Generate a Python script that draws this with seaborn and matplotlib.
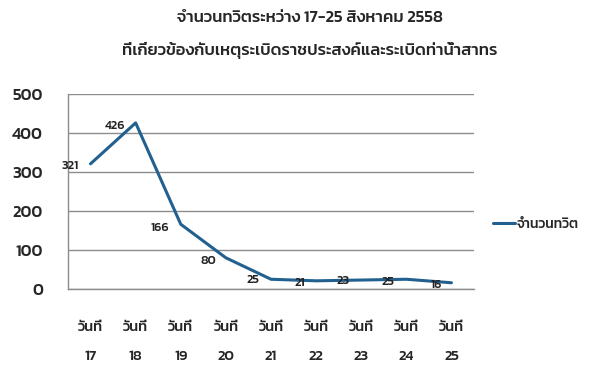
import matplotlib.pyplot as plt
import seaborn as sns
import pandas as pd

# Dados
dias = ['17', '18', '19', '20', '21', '22', '23', '24', '25']
tweets = [321, 426, 166, 80, 25, 21, 23, 25, 16]
titulo = 'จำนวนทวิตระหว่าง 17-25 สิงหาคม 2558\nที่เกี่ยวข้องกับเหตุระเบิดราชประสงค์และระเบิดท่าน้ำสาทร'
serie = 'จำนวนทวิต'

df = pd.DataFrame({'pos': range(len(dias)), 'valor': tweets, 'serie': serie})

sns.set_style('white')
fonte = ['Kanit', 'DejaVu Sans']
plt.rcParams['font.family'] = fonte

fig = plt.figure(figsize=(5.89, 3.72), dpi=100)
ax = fig.add_axes([0.1154, 0.2231, 0.6894, 0.5242])

sns.lineplot(data=df, x='pos', y='valor', hue='serie', palette=['#22608f'],
             linewidth=2.2, ax=ax, legend=True)

cinza = '#8c8c8c'
ax.set_xlim(-0.5, len(dias) - 0.5)
ax.set_ylim(0, 500)
ax.set_yticks([0, 100, 200, 300, 400, 500])
ax.yaxis.grid(True, color=cinza, linewidth=1)
ax.set_axisbelow(True)
for s in ['top', 'right']:
    ax.spines[s].set_visible(False)
for s in ['left', 'bottom']:
    ax.spines[s].set_color(cinza)
    ax.spines[s].set_linewidth(1)

ax.set_xticks([i - 0.5 for i in range(len(dias) + 1)], minor=True)
ax.set_xticks(range(len(dias)))
ax.set_xticklabels(['วันที่\n' + d for d in dias], fontsize=10.5, fontweight='medium',
                   linespacing=2.6, family=fonte)
ax.tick_params(axis='x', which='major', length=0, pad=23)
ax.tick_params(axis='x', which='minor', length=6, color=cinza, width=1)
ax.tick_params(axis='y', length=10, color=cinza, width=1, pad=8)
for t in ax.get_yticklabels():
    t.set_fontsize(12)
    t.set_fontweight('medium')
ax.set_xlabel('')
ax.set_ylabel('')

# Rótulos dos pontos
desloc = [(-20, -2), (-21, -3), (-21, -4), (-18, -3), (-18, -1), (-16, -2), (-18, -1), (-18, -3), (-15, -2)]
for i, v in enumerate(tweets):
    ax.annotate(str(v), (i, v), xytext=desloc[i], textcoords='offset pixels',
                ha='center', va='center', fontsize=9, fontweight='medium', color='#222222')

fig.text(0.526, 0.97, titulo, ha='center', va='top', fontsize=12,
         fontweight='medium', linespacing=2.3, family=fonte)

leg = ax.legend(loc='center left', bbox_to_anchor=(1.015, 0.33), frameon=False,
                handlelength=1.6, handletextpad=0.1,
                prop={'family': fonte, 'size': 10, 'weight': 'medium'})

fig.savefig('out.png', dpi=100)
